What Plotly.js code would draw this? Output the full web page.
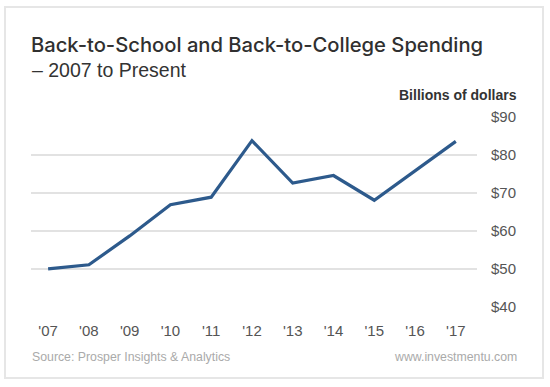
<!DOCTYPE html>
<html>
<head>
<meta charset="utf-8">
<script src="https://cdn.plot.ly/plotly-3.0.1.min.js"></script>
<style>
  html, body { margin: 0; padding: 0; background: #fff; }
  #chart { width: 550px; height: 387px; }
</style>
</head>
<body>
<div id="chart"></div>
<script>
// ---- data ----
const yearLabels = ["'07", "'08", "'09", "'10", "'11", "'12", "'13", "'14", "'15", "'16", "'17"];
const spending = [50.0, 51.1, 58.7, 66.9, 68.9, 83.8, 72.6, 74.6, 68.1, 75.8, 83.6];
const yTickVals = [40, 50, 60, 70, 80, 90];
const yTickText = ['$40', '$50', '$60', '$70', '$80', '$90'];

const titleText = 'Back-to-School and Back-to-College Spending';
const subtitleText = '\u2013 2007 to Present';
const unitText = 'Billions of dollars';
const sourceText = 'Source: Prosper Insights &amp; Analytics';
const siteText = 'www.investmentu.com';

const FONT = 'Liberation Sans, Arial, Helvetica, sans-serif';
const TITLE_FONT = 'Inter, Liberation Sans, Arial, sans-serif';

// plot-area pixel geometry helpers for text placement outside the plot
const W = 550, H = 387;
const M = { l: 31, r: 73, t: 117, b: 80 };
const PW = W - M.l - M.r, PH = H - M.t - M.b;
const px = x => (x - M.l) / PW;
const py = y => (H - M.b - y) / PH;

const trace = {
  type: 'scatter',
  mode: 'lines',
  x: yearLabels,
  y: spending,
  line: { color: '#2d5a8c', width: 3.2 },
  hoverinfo: 'skip'
};

const layout = {
  width: W, height: H,
  margin: M,
  paper_bgcolor: '#ffffff',
  plot_bgcolor: '#ffffff',
  showlegend: false,
  title: {
    text: titleText,
    font: { family: TITLE_FONT, size: 20.2, weight: 500, color: '#303030' },
    x: 31 / W, xanchor: 'left', xref: 'container',
    y: 1 - 45 / H, yanchor: 'middle', yref: 'container'
  },
  xaxis: {
    type: 'category',
    range: [-0.42, 10.52],
    showgrid: false, zeroline: false, showline: false,
    ticks: '',
    tickfont: { family: FONT, size: 15, color: '#555555' },
    ticklabelstandoff: 13,
    fixedrange: true
  },
  yaxis: {
    side: 'right',
    range: [39.98, 90.02],
    tickvals: yTickVals,
    ticktext: yTickText,
    showgrid: true, gridcolor: '#e2e2e2', gridwidth: 1.5,
    zeroline: false, showline: false,
    ticks: '',
    tickfont: { family: FONT, size: 15, color: '#555555' },
    ticklabelstandoff: 13,
    fixedrange: true
  },
  shapes: [{
    type: 'rect', xref: 'paper', yref: 'paper',
    x0: px(5), x1: px(543), y0: py(378), y1: py(7),
    line: { color: '#e6e6e6', width: 2 }, fillcolor: 'rgba(0,0,0,0)', layer: 'below'
  }],
  annotations: [
    { text: subtitleText, xref: 'paper', yref: 'paper', x: px(30), y: py(70),
      xanchor: 'left', yanchor: 'middle', showarrow: false,
      font: { family: FONT, size: 19.5, color: '#333333' } },
    { text: '<b>' + unitText + '</b>', xref: 'paper', yref: 'paper', x: px(519), y: py(95),
      xanchor: 'right', yanchor: 'middle', showarrow: false,
      font: { family: FONT, size: 14, color: '#333333' } },
    { text: sourceText, xref: 'paper', yref: 'paper', x: px(30), y: py(357),
      xanchor: 'left', yanchor: 'middle', showarrow: false,
      font: { family: FONT, size: 12.3, color: '#aaaaaa' } },
    { text: siteText, xref: 'paper', yref: 'paper', x: px(519), y: py(357),
      xanchor: 'right', yanchor: 'middle', showarrow: false,
      font: { family: FONT, size: 12.3, color: '#aaaaaa' } }
  ]
};

Plotly.newPlot('chart', [trace], layout, { staticPlot: true, displayModeBar: false });
</script>
</body>
</html>
